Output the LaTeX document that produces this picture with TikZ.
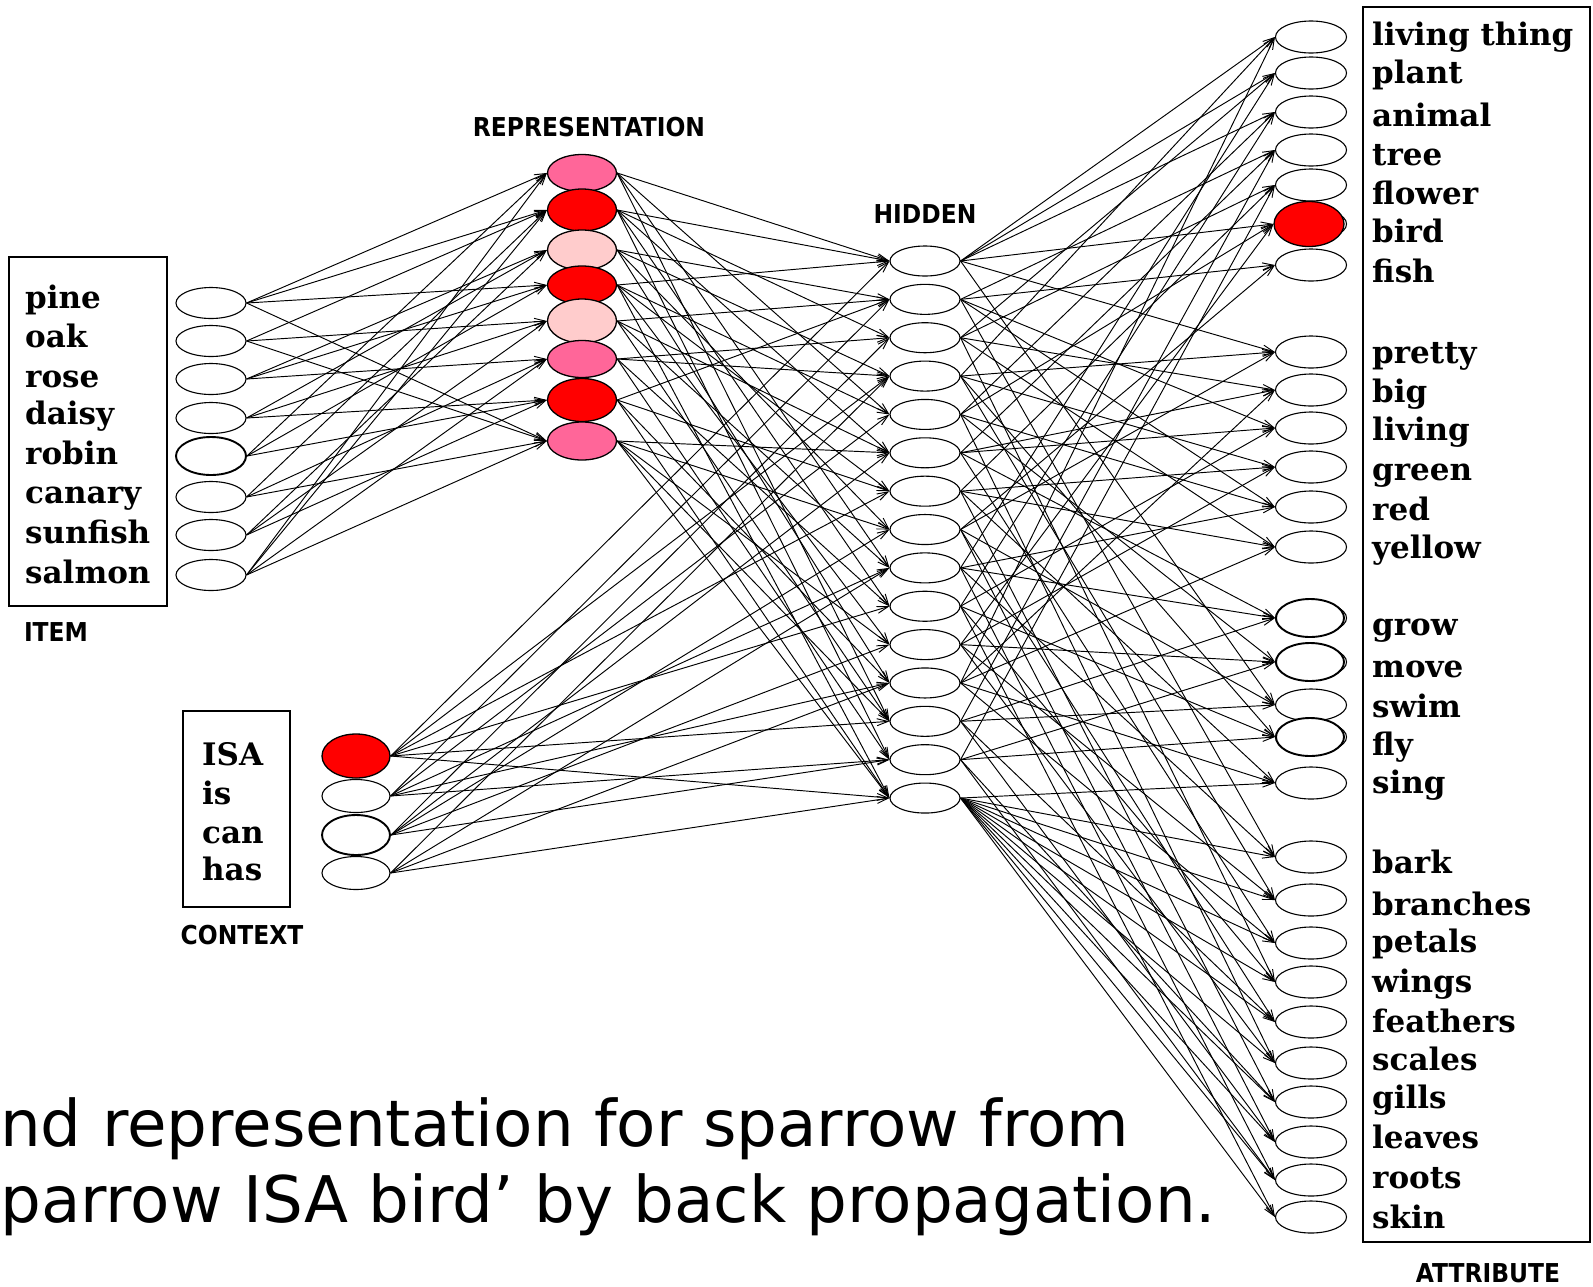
\documentclass[tikz,border=0pt]{standalone}
\usepackage{fontspec}
\setmainfont{DejaVu Serif}
\newfontfamily\capfont{DejaVu Sans}
\usetikzlibrary{shapes.geometric,arrows.meta}
\definecolor{unitred}{RGB}{255,0,0}
\definecolor{unitpink}{RGB}{255,102,153}
\definecolor{unitpale}{RGB}{255,204,204}
\tikzset{
  unit/.style={ellipse, draw=black, line width=1.1pt, fill=white, inner sep=0pt,
    minimum width=70pt, minimum height=31pt},
  lit/.style={unit, line width=1.9pt},
  conn/.style={line width=0.95pt, -{Straight Barb[length=11pt,width=7pt]}},
  word/.style={anchor=base west, inner sep=0pt, font=\fontsize{31}{31}\selectfont\bfseries},
  tag/.style={inner sep=0pt, font=\capfont\fontsize{26}{26}\selectfont\bfseries},
  frame/.style={draw, line width=1.3pt, inner sep=0pt},
  caption/.style={anchor=base west, inner sep=0pt, font=\capfont\fontsize{64.3}{64.3}\selectfont},
}
\begin{document}
\begin{tikzpicture}[x=1pt,y=-1pt]
\useasboundingbox (0,0) rectangle (1593,1286);
\fill[white] (0,0) rectangle (1593,1286);

% ---- frames around the word lists
\node[frame, minimum width=158pt, minimum height=349pt] (itembox) at (88,431.5) {};
\node[frame, minimum width=107pt, minimum height=196pt] (ctxbox) at (236.5,809) {};
\node[frame, minimum width=227pt, minimum height=1235pt] (attrbox) at (1476.5,624.5) {};

% ---- layer captions
\node[tag] (itemtag) at (56,632) {\scalebox{0.9}[1]{ITEM}};
\node[tag] (ctxtag) at (242,935) {\scalebox{0.9}[1]{CONTEXT}};
\node[tag] (reptag) at (589,127) {\scalebox{0.9}[1]{REPRESENTATION}};
\node[tag] (hidtag) at (925,214) {\scalebox{0.9}[1]{HIDDEN}};
\node[tag] (attrtag) at (1488,1273) {\scalebox{0.9}[1]{ATTRIBUTE}};

% ---- item words and units
\foreach \w/\b [count=\k] in {pine/308,oak/347,rose/387,daisy/424,robin/464,canary/503,sunfish/543,salmon/583}
  \node[word] (iw\k) at (25,\b) {\w};
\foreach \y [count=\k] in {303,341,379,418,456,497,535,575}
  \node[unit] (i\k) at (211,\y) {};
\node[lit, minimum height=38pt] (i5) at (211,456) {};

% ---- context words and units
\foreach \w/\b [count=\k] in {ISA/765,is/804,can/843,has/880}
  \node[word] (cw\k) at (202,\b) {\w};
\node[unit, fill=unitred, line width=1.3pt, minimum width=68pt, minimum height=44pt] (c1) at (356,756) {};
\node[unit, minimum width=68pt, minimum height=33pt] (c2) at (356,796) {};
\node[lit, minimum width=68pt, minimum height=40pt] (c3) at (356,835) {};
\node[unit, minimum width=68pt, minimum height=33pt] (c4) at (356,873) {};

% ---- representation units
\foreach \y/\c/\h [count=\k] in {173/unitpink/37,210/unitred/42,250/unitpale/40,285/unitred/38,
    321/unitpale/44,359/unitpink/37,400/unitred/43,441/unitpink/38}
  \node[unit, fill=\c, line width=1.3pt, minimum width=69pt, minimum height=\h pt] (r\k) at (582,\y) {};

% ---- hidden units
\foreach \k in {1,...,15}
  \node[unit, minimum height=30pt] (h\k) at (925,{261+38.36*(\k-1)}) {};

% ---- attribute units and words
\foreach \y [count=\k] in {37,73,112,150,185,224,265,352,390,428,467,507,547,
    618,662,705,737,783,857,900,943,982,1022,1063,1102,1142,1180,1217}
  \node[unit, minimum width=71pt, minimum height=32pt] (a\k) at (1311,\y) {};
\node[unit, fill=unitred, line width=1.3pt, minimum width=70pt, minimum height=45pt] (a6) at (1309,224) {};
\node[lit, minimum width=68pt, minimum height=38pt] (a14) at (1310,618) {};
\node[lit, minimum width=68pt, minimum height=38pt] (a15) at (1310,662) {};
\node[lit, minimum width=68pt, minimum height=38pt] (a17) at (1310,737) {};
\foreach \w/\b [count=\k] in {living thing/45,plant/83,animal/126,tree/165,flower/204,bird/242,fish/282,
    pretty/363,big/402,living/440,green/480,red/520,yellow/558,
    grow/635,move/677,swim/717,fly/755,sing/793,
    bark/873,branches/915,petals/952,wings/992,feathers/1032,scales/1070,gills/1108,leaves/1148,roots/1188,skin/1228}
  \node[word] (aw\k) at (1372,\b) {\w};

% ---- item -> representation
\foreach \s/\t in {1/1,1/2,1/4,1/8, 2/2,2/5,2/8, 3/3,3/4,3/6, 4/3,4/5,4/7,
    5/1,5/4,5/7, 6/2,6/6,6/8, 7/3,7/5,7/7, 8/1,8/2,8/6,8/8}
  \draw[conn] (i\s.east) -- (r\t.west);

% ---- representation -> hidden
\foreach \s/\t in {1/1,1/5,1/9,1/13, 2/1,2/3,2/6,2/10,2/14, 3/2,3/4,3/8,3/12,
    4/1,4/5,4/7,4/11,4/15, 5/2,5/6,5/9,5/13, 6/3,6/4,6/10,6/14,
    7/2,7/7,7/12,7/15, 8/6,8/8,8/11,8/13,8/15}
  \draw[conn] (r\s.east) -- (h\t.west);

% ---- context -> hidden
\foreach \s/\t in {1/1,1/4,1/7,1/10,1/13,1/15, 2/2,2/5,2/9,2/12,2/14,
    3/3,3/6,3/8,3/11,3/14, 4/4,4/9,4/12,4/15}
  \draw[conn] (c\s.east) -- (h\t.west);

% ---- hidden -> attribute
\foreach \s/\t in {1/1,1/2,1/3,1/6,1/8,1/16, 2/4,2/7,2/10,2/12,2/19,
    3/2,3/5,3/9,3/13,3/22, 4/1,4/8,4/11,4/17,4/20, 5/3,5/6,5/12,5/15,5/24,
    6/4,6/9,6/10,6/14,6/21, 7/5,7/11,7/13,7/18,7/25, 8/7,8/8,8/16,8/23,8/26,
    9/2,9/12,9/14,9/19,9/27, 10/3,10/10,10/17,10/22,10/28, 11/6,11/11,11/15,11/20,11/24,
    12/1,12/9,12/13,12/18,12/21, 13/4,13/14,13/16,13/23,13/26, 14/5,14/15,14/17,14/25,14/27,
    15/18,15/19,15/20,15/21,15/22,15/23,15/24,15/25,15/26,15/27,15/28}
  \draw[conn] (h\s.east) -- (a\t.west);

% ---- caption
\node[caption] (cap1) at (0,1146) {nd representation for sparrow from};
\node[caption] (cap2) at (0,1222) {parrow ISA bird’ by back propagation.};
\end{tikzpicture}
\end{document}
